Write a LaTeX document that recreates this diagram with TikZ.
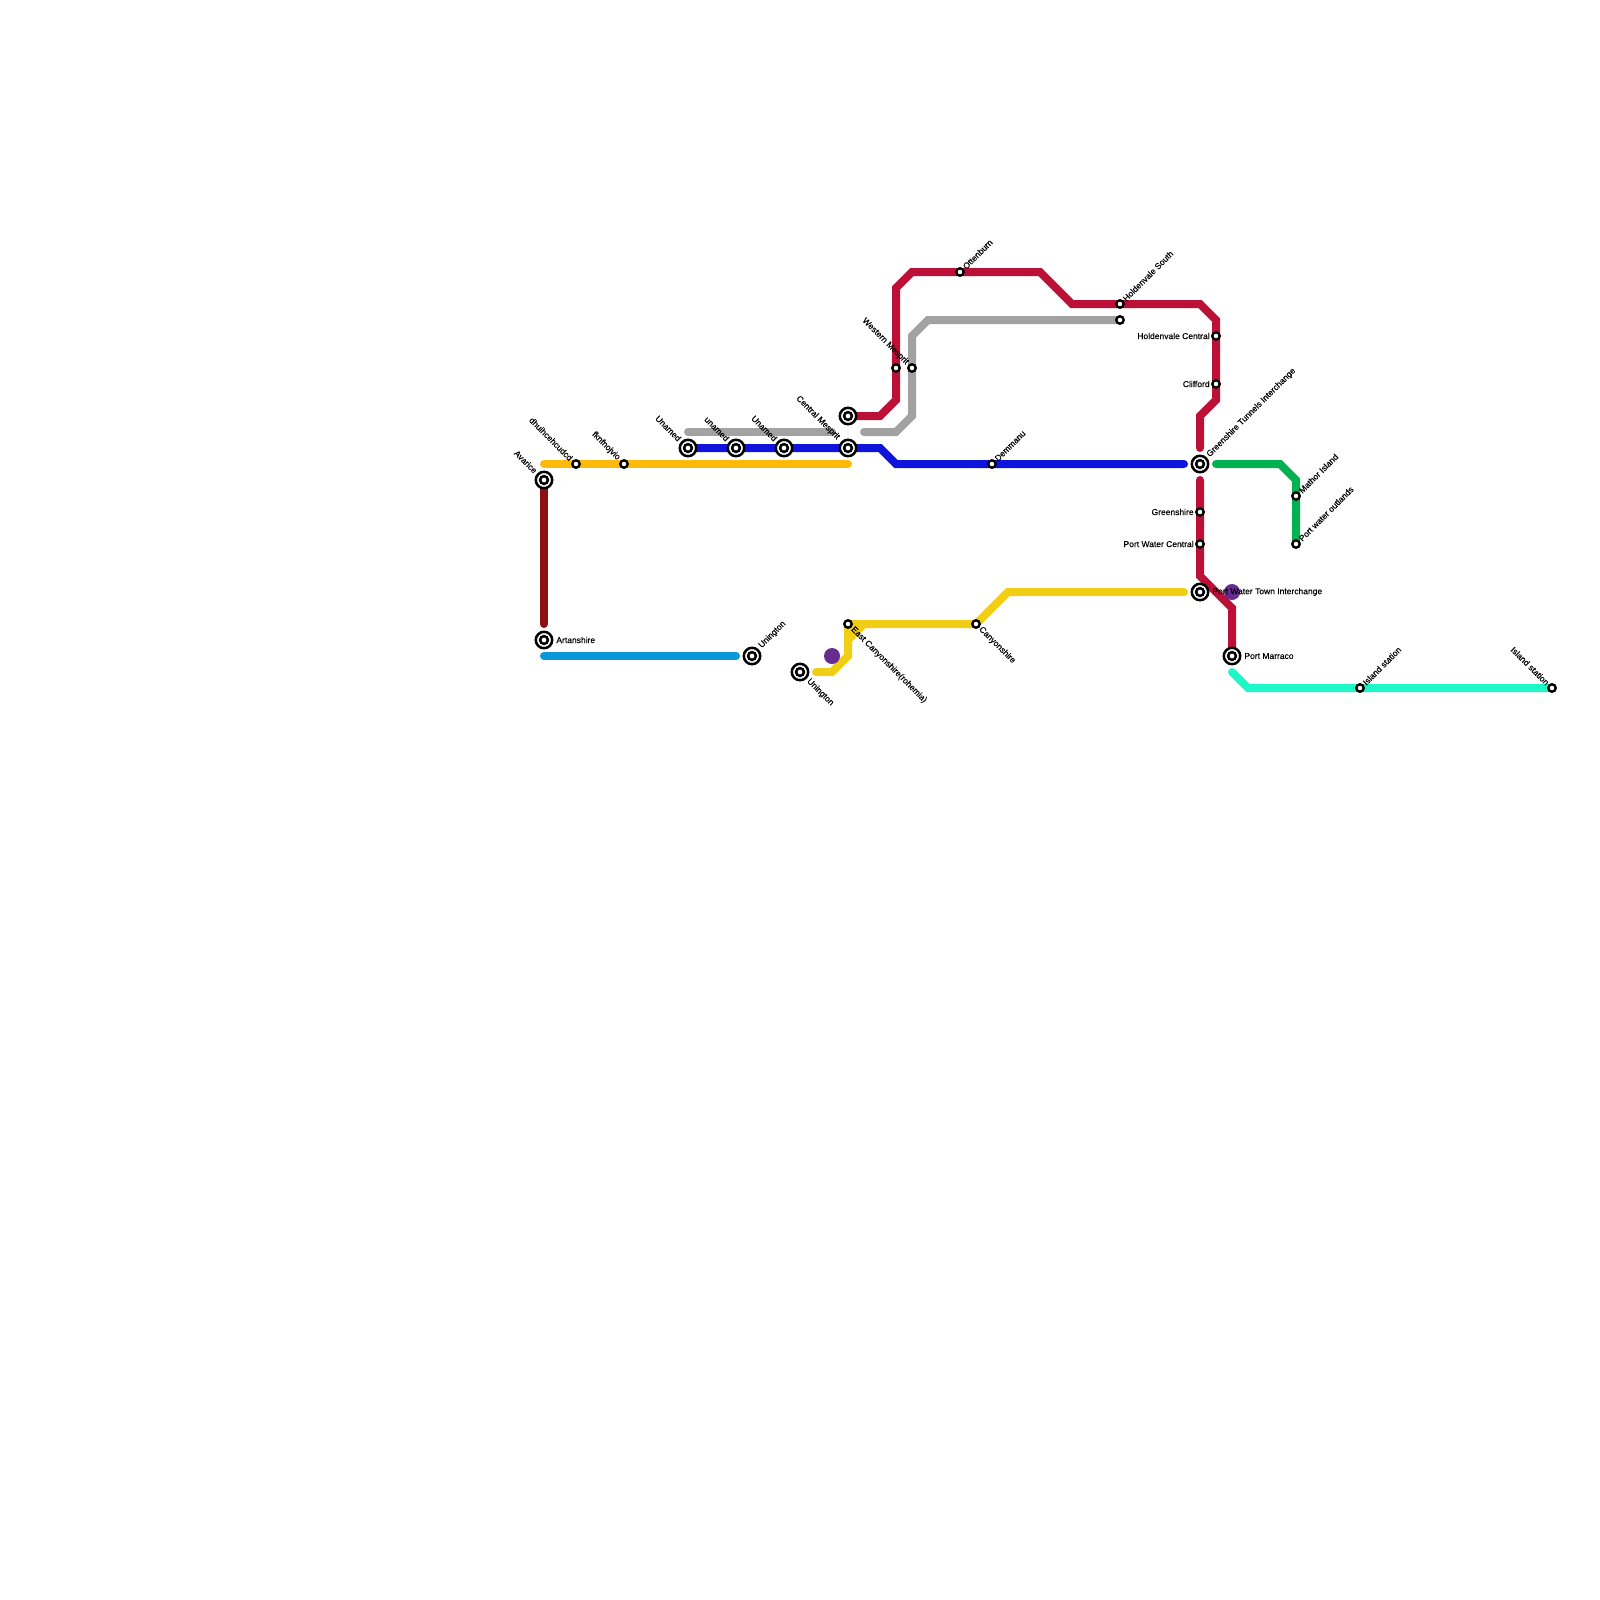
\documentclass[tikz,border=0pt]{standalone}
\usepackage{fontspec}
\setmainfont{Liberation Sans}[FakeBold=0.2]
\usetikzlibrary{backgrounds}
\definecolor{cCrimson}{HTML}{BD1038}
\definecolor{cGrey}{HTML}{A2A2A2}
\definecolor{cBlue}{HTML}{0F14DC}
\definecolor{cOrange}{HTML}{FFB90A}
\definecolor{cDark}{HTML}{8E0F14}
\definecolor{cSky}{HTML}{0A97DA}
\definecolor{cYellow}{HTML}{F0CE15}
\definecolor{cGreen}{HTML}{00B251}
\definecolor{cAqua}{HTML}{1EF8C8}
\definecolor{cPurple}{HTML}{662C90}
\tikzset{
  metro/.style={line width=4pt,line cap=round,line join=miter,miter limit=4},
  outerring/.style={circle,draw=black,fill=white,line width=1.25pt,inner sep=0pt,minimum size=8.2pt},
  innerring/.style={circle,draw=black,fill=white,line width=1.25pt,inner sep=0pt,minimum size=3.9pt},
  small/.style={circle,draw=black,fill=white,line width=1.2pt,inner sep=0pt,minimum size=3.7pt},
  blob/.style={circle,fill=cPurple,inner sep=0pt,minimum size=8pt},
  txt/.style={inner sep=0pt,text=black,font=\fontsize{4.25}{5}\selectfont},
  ne/.style={txt,anchor=west,rotate=45},
  nw/.style={txt,anchor=east,rotate=-45},
  se/.style={txt,anchor=west,rotate=-45},
  ww/.style={txt,anchor=east},
  ee/.style={txt,anchor=west},
}
\newcommand{\inter}[3]{\node[outerring] (#1) at (#2,#3) {}; \node[innerring] (#1i) at (#2,#3) {};}
\newcommand{\halt}[3]{\node[small] (#1) at (#2,#3) {};}
\begin{document}
\begin{tikzpicture}[x=0.5pt,y=-0.5pt]
\useasboundingbox (0,0) rectangle (1600,1600);
% dots
\node[blob] (dotA) at (832,656) {};
\node[blob] (dotB) at (1232,592) {};
% interchanges
\inter{avarice}{544}{480}
\inter{artan}{544}{640}
\inter{unamedA}{688}{448}
\inter{unamedB}{736}{448}
\inter{unamedC}{784}{448}
\inter{central}{848}{448}
\inter{topc}{848}{416}
\inter{uningA}{752}{656}
\inter{uningB}{800}{672}
\inter{tunnels}{1200}{464}
\inter{town}{1200}{592}
\inter{marraco}{1232}{656}
% plain stops
\halt{dhui}{576}{464}
\halt{fknf}{624}{464}
\halt{east}{848}{624}
\halt{canyon}{976}{624}
\halt{otten}{960}{272}
\halt{holdS}{1120}{304}
\halt{holdL}{1120}{320}
\halt{westA}{896}{368}
\halt{westB}{912}{368}
\halt{demm}{992}{464}
\halt{holdC}{1216}{336}
\halt{cliff}{1216}{384}
\halt{green}{1200}{512}
\halt{pwc}{1200}{544}
\halt{mathor}{1296}{496}
\halt{outl}{1296}{544}
\halt{islA}{1360}{688}
\halt{islB}{1552}{688}
% free line ends
\coordinate (oL) at (544,464);
\coordinate (oR) at (848,464);
\coordinate (dT) at (544,480);
\coordinate (dB) at (544,624);
\coordinate (sL) at (544,656);
\coordinate (sR) at (736,656);
\coordinate (gL) at (688,432);
\coordinate (gR) at (832,432);
\coordinate (hL) at (864,432);
\coordinate (bR) at (1184,464);
\coordinate (cE) at (1200,448);
\coordinate (dS) at (1200,480);
\coordinate (nS) at (1216,464);
\coordinate (aS) at (1232,672);
\coordinate (yL) at (816,672);
\coordinate (yR) at (1184,592);
\coordinate (yJ) at (848,640);
\begin{pgfonlayer}{background}
\fill[white] (0,0) rectangle (1600,1600);
\draw[metro,cOrange] (oL) -- (oR);
\draw[metro,cDark] (dT) -- (dB);
\draw[metro,cSky] (sL) -- (sR);
\draw[metro,cGrey] (gL) -- (gR);
\draw[metro,cGrey] (hL) -- (896,432) -- (912,416) -- (912,336) -- (928,320) -- (holdL.center);
\draw[metro,cBlue] (unamedA.center) -- (880,448) -- (896,464) -- (bR);
\draw[metro,cCrimson] (topc.center) -- (880,416) -- (896,400) -- (896,288) -- (912,272) -- (1040,272) -- (1072,304) -- (1200,304) -- (1216,320) -- (1216,400) -- (1200,416) -- (cE);
\draw[metro,cCrimson] (dS) -- (1200,576) -- (1232,608) -- (marraco.center);
\draw[metro,cGreen] (nS) -- (1280,464) -- (1296,480) -- (outl.center);
\draw[metro,cAqua] (aS) -- (1248,688) -- (islB.center);
\draw[metro,cYellow] (yL) -- (832,672) -- (848,656) -- (east.center);
\draw[metro,cYellow] (yJ) -- (864,624);
\draw[metro,cYellow] (east.center) -- (canyon.center) -- (1008,592) -- (yR);
\end{pgfonlayer}
% labels
\node[nw] (tAvarice) at (536,472) {Avarice};
\node[ee] (tArtan) at (556,640) {Artanshire};
\node[nw] (tDhui) at (571.5,459.5) {dhuihcehcudcd};
\node[nw] (tFknf) at (619,459) {fknfnojvio};
\node[nw] (tUnamedA) at (680,440) {Unamed};
\node[nw] (tUnamedB) at (728,440) {unamed};
\node[nw] (tUnamedC) at (776,440) {Unamed};
\node[nw] (tCentral) at (838.5,438.5) {Central Mesprit};
\node[nw] (tWest) at (907.5,363.5) {Western Mesprit};
\node[ne] (tUningA) at (760,647) {Unington};
\node[se] (tUningB) at (808,680) {Unington};
\node[se] (tEast) at (852,628) {East Canyonshire(rohemia)};
\node[se] (tCanyon) at (980,628) {Canyonshire};
\node[ne] (tOtten) at (964,268) {Ottenburn};
\node[ne] (tHoldS) at (1124,300) {Holdenvale South};
\node[ne] (tDemm) at (996,460) {Demmanu};
\node[ne] (tTunnels) at (1208,456) {Greenshire Tunnels Interchange};
\node[ne] (tMathor) at (1300,492) {Mathor Island};
\node[ne] (tOutl) at (1300,540) {Port water outlands};
\node[ne] (tIslA) at (1364,684) {Island station};
\node[nw] (tIslB) at (1548,684) {Island station};
\node[ww] (tHoldC) at (1210,336) {Holdenvale Central};
\node[ww] (tCliff) at (1210,384) {Clifford};
\node[ww] (tGreen) at (1194,512) {Greenshire};
\node[ww] (tPwc) at (1194,544) {Port Water Central};
\node[ee] (tTown) at (1212,592) {Port Water Town Interchange};
\node[ee] (tMarraco) at (1244,656) {Port Marraco};
\end{tikzpicture}
\end{document}
